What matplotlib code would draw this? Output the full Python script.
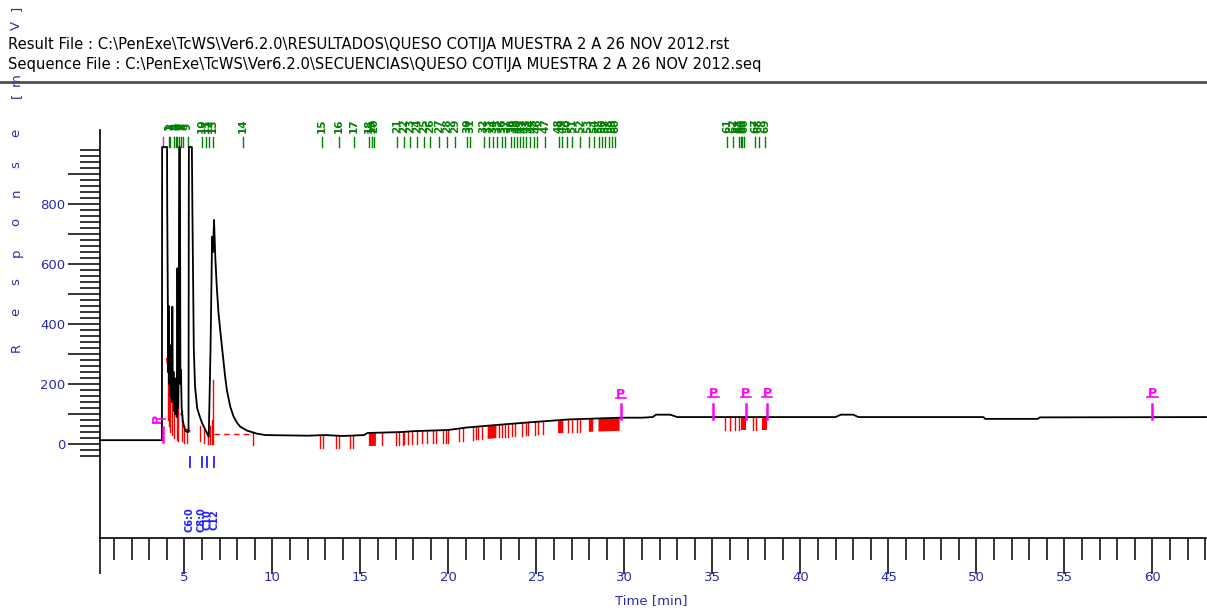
import numpy as np
import matplotlib
matplotlib.use("Agg")
import matplotlib.pyplot as plt
from matplotlib.ticker import FixedLocator, FuncFormatter

# ---------------- data ----------------
time_min = [0.2, 3.72, 3.73, 4.01, 4.02, 4.05, 4.08, 4.11, 4.14, 4.18, 4.21, 4.25, 4.28,
            4.31, 4.34, 4.38, 4.41, 4.45, 4.48, 4.52, 4.56, 4.60, 4.64, 4.67, 4.70, 4.74,
            4.77, 4.80, 4.84, 4.90, 4.97, 5.05, 5.15, 5.23, 5.25, 5.42, 5.45, 5.53, 5.60,
            5.72, 5.85, 6.00, 6.10, 6.25, 6.38, 6.48, 6.57, 6.62, 6.68, 6.75, 6.84, 6.93,
            7.03, 7.12, 7.22, 7.31, 7.41, 7.60, 7.79, 8.0, 8.17, 8.55, 9.10, 9.6, 12.0, 13.0,
            14.0, 15.2, 15.4, 17.3, 18.0, 20.0, 21.0, 22.6, 24.5, 26.8, 29.8, 31.0, 31.6,
            31.8, 32.6, 33.0, 35.0, 42.0, 42.3, 43.0, 43.3, 50.4, 50.5, 53.5, 53.6, 63.05]
response = [13, 13, 990, 990, 786, 524, 240, 460, 200, 330, 160, 260, 140,
            458, 150, 240, 110, 220, 100, 180, 90, 586, 120, 250, 990, 990,
            200, 247, 120, 80, 60, 45, 40, 40, 990, 990, 786, 320, 192,
            120, 95, 70, 58, 40, 24, 314, 691, 640, 747, 624, 520, 440,
            380, 330, 275, 225, 180, 125, 92, 70, 58, 45, 35, 30, 28, 30,
            27, 30, 37, 40, 43, 47, 55, 63, 72, 82, 88, 88, 90,
            98, 98, 90, 90, 90, 98, 98, 90, 90, 84, 84, 89, 90]

# peak start/stop marks (green) at top
peak_times = [4.1, 4.2, 4.4, 4.5, 4.6, 4.7, 4.8, 4.9, 5.2, 6.0, 6.2, 6.4, 6.6, 8.3,
              12.82, 13.77, 14.62, 15.47, 15.63, 15.76, 17.08, 17.46, 17.84, 18.22, 18.6,
              18.98, 19.45, 19.93, 20.4, 21.06, 21.25, 22.01, 22.29, 22.54, 22.76, 23.05,
              23.24, 23.56, 23.71, 23.9, 24.09, 24.24, 24.43, 24.66, 24.85, 25.04, 25.51,
              26.27, 26.46, 26.74, 27.03, 27.5, 27.97, 28.26, 28.54, 28.73, 28.92, 29.11,
              29.3, 29.49, 35.83, 36.17, 36.5, 36.6, 36.7, 36.8, 37.44, 37.63, 38.01]
peak_labels = [str(i + 1) for i in range(len(peak_times))]

# red baseline drop marks
drop_times = [8.9, 12.7, 12.9, 13.6, 13.8, 14.4, 14.6, 16.25, 17.0, 17.2, 17.4, 17.5, 17.7,
              17.95, 18.2, 18.5, 18.8, 19.1, 19.3, 19.7, 19.85, 20.0, 20.6, 20.8, 21.4,
              21.55, 21.7, 21.9, 22.85, 23.05, 23.2, 23.4, 23.6, 23.8, 24.2, 24.4, 24.55,
              24.9, 25.1, 25.4, 26.8, 27.0, 27.3, 27.5, 35.7, 36.0, 36.3, 36.5, 37.3, 37.5]
drop_spans = [(15.45, 15.85), (22.2, 22.7), (26.2, 26.5), (27.95, 28.2), (28.5, 29.7),
              (36.6, 36.9), (37.8, 38.1)]
# red drop lines inside the early peak cluster: (time, top, bottom)
cluster_drop_t = [4.08, 4.12, 4.2, 4.3, 4.4, 4.55, 4.63, 4.85, 5.0, 5.15, 5.9, 6.1, 6.35,
                  6.45, 6.55, 6.61]
cluster_drop_top = [250, 200, 170, 150, 113, 100, 247, 110, 60, 50, 60, 50, 45, 60, 80, 213]
cluster_drop_bot = [80, 60, 40, 30, 20, 15, 10, 10, 5, 5, 10, 5, 0, 0, 0, 0]
# dashed baselines
dash_t = [[3.98, 4.2, 4.85], [5.05, 5.5], [6.65, 8.9]]
dash_v = [[287, 160, 95], [50, 40], [33, 33]]

# event markers (magenta)
event_times = [29.8, 35.05, 36.9, 38.1, 60.0]

# identified compounds (blue)
ident_times = [5.30, 5.97, 6.29, 6.70]
ident_labels = ["C6:0", "C8:0", "C10", "C12"]

header1 = r"Result File : C:\PenExe\TcWS\Ver6.2.0\RESULTADOS\QUESO COTIJA MUESTRA 2 A 26 NOV 2012.rst"
header2 = r"Sequence File : C:\PenExe\TcWS\Ver6.2.0\SECUENCIAS\QUESO COTIJA MUESTRA 2 A 26 NOV 2012.seq"

BLUE = "#2b2bb0"
GREEN = "#008000"
RED = "#ff0000"
MAG = "#ff00ff"

W, H = 1207, 611
fig = plt.figure(figsize=(W / 100, H / 100), dpi=100)
ax = fig.add_axes([100 / W, 1 - 538 / H, (1206 - 100) / W, (538 - 108) / H])
ax.set_xlim(0.2, 63.05)
ax.set_ylim(-313, 1120)
ax.patch.set_alpha(0)

for s in ("top", "right"):
    ax.spines[s].set_visible(False)
ax.spines["left"].set_bounds(-313, 1047)
ax.spines["left"].set_linewidth(1.2)
ax.spines["bottom"].set_linewidth(1.2)

# x ticks
xmaj = [0.2] + list(range(5, 61, 5))
ax.xaxis.set_major_locator(FixedLocator(xmaj))
ax.xaxis.set_major_formatter(FuncFormatter(lambda v, p: "" if v < 1 else f"{int(round(v))}"))
ax.xaxis.set_minor_locator(FixedLocator([m for m in range(1, 64) if m % 5]))
ax.tick_params(axis="x", which="major", length=26, width=1.1, labelsize=9.5,
               labelcolor=BLUE, pad=-2)
ax.tick_params(axis="x", which="minor", length=15.5, width=1.1)
# y ticks
ax.yaxis.set_major_locator(FixedLocator(list(range(0, 1000, 100))))
ax.yaxis.set_major_formatter(FuncFormatter(lambda v, p: f"{int(v)}" if int(v) % 200 == 0 else ""))
ax.yaxis.set_minor_locator(FixedLocator([m for m in range(-40, 1000, 20) if m % 100]))
ax.tick_params(axis="y", which="major", length=23, width=1.1, labelsize=9.5,
               labelcolor=BLUE, pad=2)
ax.tick_params(axis="y", which="minor", length=14.5, width=1.1)

ax.text(31.5, -520, "Time [min]", color=BLUE, fontsize=9.5, ha="center", va="center",
        clip_on=False)

t_arr = np.array(time_min)
v_arr = np.array(response)

# red drop marks along baseline
for t in drop_times:
    b = np.interp(t, t_arr, v_arr)
    ax.plot([t, t], [b - 42, b], color=RED, lw=1.0, zorder=2)
for a, bnd in drop_spans:
    tt = np.linspace(a, bnd, 20)
    bb = np.interp(tt, t_arr, v_arr)
    ax.fill_between(tt, bb - 42, bb, color=RED, lw=0, zorder=2)
for t, top, bot in zip(cluster_drop_t, cluster_drop_top, cluster_drop_bot):
    ax.plot([t, t], [bot, top], color=RED, lw=1.0, zorder=2)
for dt, dv in zip(dash_t, dash_v):
    ax.plot(dt, dv, color=RED, lw=1.0, ls=(0, (4, 3)), zorder=2)

# trace
ax.plot(time_min, response, color="black", lw=1.3, zorder=3, clip_on=False)

# green peak marks
for t, lab in zip(peak_times, peak_labels):
    ax.plot([t, t], [990, 1023], color=GREEN, lw=1.0, clip_on=False)
    ax.text(t, 1060, lab, color=GREEN, fontsize=7.5, fontweight="bold", rotation=90,
            ha="center", va="center", clip_on=False)
ax.plot([3.8, 3.8], [990, 1023], color=MAG, lw=1.0, clip_on=False)

# magenta event markers
for t in event_times:
    b = np.interp(t, t_arr, v_arr)
    ax.plot([t, t], [b - 5, b + 45], color=MAG, lw=1.8, zorder=4)
    ax.text(t, b + 78, "P", color=MAG, fontsize=9, fontweight="bold", ha="center",
            va="center", zorder=4)
    ax.plot([t - 0.3, t + 0.3], [b + 66, b + 66], color=MAG, lw=1.2, zorder=4)
ax.plot([3.8, 3.8], [7, 57], color=MAG, lw=1.8, zorder=4)
ax.text(3.45, 87, "P", color=MAG, fontsize=9, fontweight="bold", rotation=90,
        ha="center", va="center", zorder=4)
ax.plot([3.45, 3.9], [84, 84], color=MAG, lw=1.2, zorder=4)

# blue identification marks
for t, lab in zip(ident_times, ident_labels):
    ax.plot([t, t], [-42, -76], color="#2020ff", lw=1.3)
    ax.text(t, -253, lab, color="#2020ff", fontsize=7, fontweight="bold", rotation=90,
            ha="center", va="center")

# header
fig.text(8 / W, 1 - 44 / H, header1, fontsize=10.6, family="DejaVu Sans",
         ha="left", va="center", zorder=5)
fig.text(8 / W, 1 - 64 / H, header2, fontsize=10.6, family="DejaVu Sans",
         ha="left", va="center", zorder=5)
fig.add_artist(plt.Line2D([0, 1], [1 - 82 / H, 1 - 82 / H], color="#505050", lw=2.0))

# spaced y-axis label
ylab_chars = ["R", "e", "s", "p", "o", "n", "s", "e", "[", "m", "V", "]"]
ylab_y = [347, 312, 282, 253, 222, 193, 165, 133, 95, 80, 25, 8]
for ch, yy in zip(ylab_chars, ylab_y):
    fig.text(16 / W, 1 - yy / H, ch, color=BLUE, fontsize=9.5, rotation=90,
             ha="center", va="center", zorder=1)

fig.savefig("out.png", dpi=100)
